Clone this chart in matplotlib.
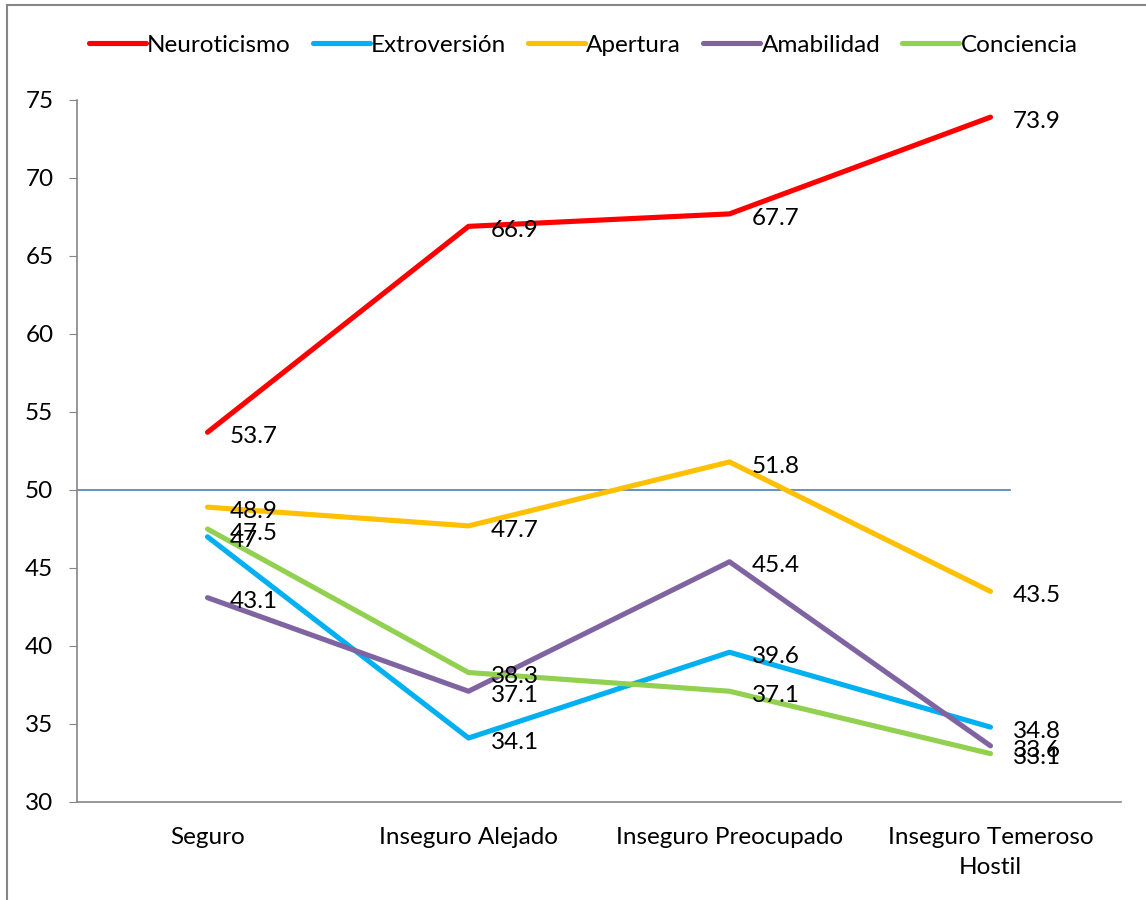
import numpy as np
import matplotlib.pyplot as plt
from matplotlib.patches import Rectangle

plt.rcParams['font.family'] = ['Lato', 'DejaVu Sans']

categories = ['Seguro', 'Inseguro Alejado', 'Inseguro Preocupado', 'Inseguro Temeroso\nHostil']
series_names = ['Neuroticismo', 'Extroversión', 'Apertura', 'Amabilidad', 'Conciencia']
neuroticismo = [53.7, 66.9, 67.7, 73.9]
extroversion = [47, 34.1, 39.6, 34.8]
apertura = [48.9, 47.7, 51.8, 43.5]
amabilidad = [43.1, 37.1, 45.4, 33.6]
conciencia = [47.5, 38.3, 37.1, 33.1]
reference = 50

colors = ['#FF0000', '#00B0F0', '#FFC000', '#8064A2', '#92D050']
fs = 17.5

fig = plt.figure(figsize=(11.46, 9), dpi=100)
W, H = 1146, 900
# axes placed in pixel terms
left, right, top, bottom = 77, 1121, 100, 802
ax = fig.add_axes([left / W, 1 - bottom / H, (right - left) / W, (bottom - top) / H])

x = np.arange(len(categories))
all_series = [neuroticismo, extroversion, apertura, amabilidad, conciencia]
for name, vals, c in zip(series_names, all_series, colors):
    ax.plot(x, vals, color=c, lw=3.7, label=name, solid_capstyle='round')
    for xi, v in zip(x, vals):
        ax.annotate(f'{v:g}', (xi, v), xytext=(16, -3), textcoords='offset points',
                    ha='left', va='center', fontsize=fs, color='black')

# reference line at 50
ax.axhline(reference, xmin=0, xmax=(1010 - left) / (right - left), color='#4A7EBB', lw=1.2, zorder=0)

ax.set_xlim(-0.5, len(categories) - 0.5)
ax.set_ylim(30, 75)
ax.set_yticks(np.arange(30, 76, 5))
ax.set_xticks(x, categories, linespacing=1.5)
ax.tick_params(axis='y', labelsize=fs, length=6, color='#868686', pad=11)
ax.tick_params(axis='x', labelsize=fs, length=0, pad=18)
for s in ['top', 'right']:
    ax.spines[s].set_visible(False)
for s in ['left', 'bottom']:
    ax.spines[s].set_color('#868686')
    ax.spines[s].set_linewidth(1.2)

ax.legend(loc='center', bbox_to_anchor=(583 / W, 1 - 45 / H), bbox_transform=fig.transFigure,
          ncol=5, frameon=False, fontsize=fs, handlelength=2.35, handletextpad=0.05,
          columnspacing=0.9)

# outer chart border
fig.patches.append(Rectangle((7 / W, -0.1), 1.2, 1 - 5 / H + 0.1, transform=fig.transFigure,
                             fill=False, edgecolor='#868686', lw=1.5))

fig.savefig('out.png', dpi=100)
